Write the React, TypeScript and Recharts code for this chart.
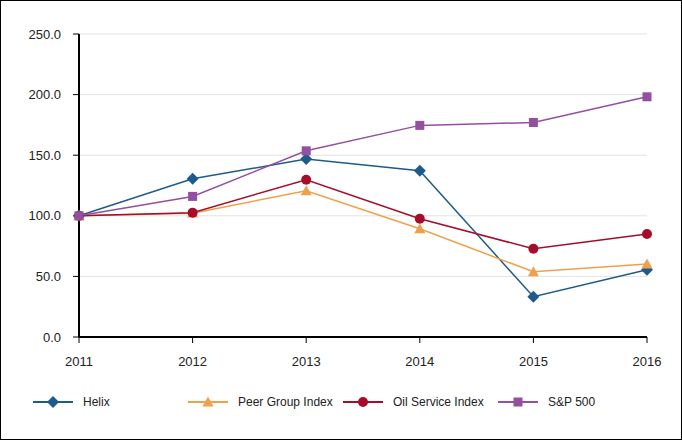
import React from "react";
import { LineChart, Line, XAxis, YAxis, CartesianGrid } from "recharts";

const years = ["2011", "2012", "2013", "2014", "2015", "2016"];
const helix = [100, 130.5, 146.8, 137.2, 33.2, 55.5];
const peerGroup = [100, 102.2, 120.6, 89.3, 53.8, 60.2];
const oilService = [100, 102.6, 129.8, 97.5, 72.8, 85.0];
const sp500 = [100, 116.0, 153.6, 174.6, 177.0, 198.2];
const yTicks = [0, 50, 100, 150, 200, 250];

const seriesNames = ["Helix", "Peer Group Index", "Oil Service Index", "S&P 500"];
const seriesKeys = ["helix", "peer", "oil", "sp"];
const seriesColors = ["#1F5A8C", "#F0A04A", "#A50D2A", "#934FA0"];
const seriesShapes = ["diamond", "triangle", "circle", "square"];

const data = years.map((y, i) => ({
  year: y,
  helix: helix[i],
  peer: peerGroup[i],
  oil: oilService[i],
  sp: sp500[i],
}));

const FONT = "'Liberation Sans', Arial, sans-serif";

function Marker({ shape, cx, cy, color }: { shape: string; cx: number; cy: number; color: string }) {
  if (cx == null || cy == null) return null;
  if (shape === "diamond") {
    const s = 6;
    return <polygon points={`${cx},${cy - s} ${cx + s},${cy} ${cx},${cy + s} ${cx - s},${cy}`} fill={color} />;
  }
  if (shape === "triangle") {
    const s = 5.5;
    return <polygon points={`${cx},${cy - s} ${cx + s},${cy + s * 0.8} ${cx - s},${cy + s * 0.8}`} fill={color} />;
  }
  if (shape === "circle") {
    return <circle cx={cx} cy={cy} r={5} fill={color} />;
  }
  return <rect x={cx - 4.5} y={cy - 4.5} width={9} height={9} fill={color} />;
}

function makeDot(idx: number) {
  return (props: any) => (
    <Marker key={`${idx}-${props.index}`} shape={seriesShapes[idx]} cx={props.cx} cy={props.cy} color={seriesColors[idx]} />
  );
}

function LegendBlock() {
  return (
    <div
      style={{
        position: "absolute",
        top: 394,
        left: 0,
        display: "flex",
        paddingLeft: 32,
        fontFamily: FONT,
        fontSize: 12,
        color: "#222",
      }}
    >
      {seriesNames.map((name, i) => (
        <div key={name} style={{ width: 155, display: "flex", alignItems: "center" }}>
          <svg width={50} height={14}>
            <line x1={0} y1={7} x2={40} y2={7} stroke={seriesColors[i]} strokeWidth={2} />
            <Marker shape={seriesShapes[i]} cx={20} cy={7} color={seriesColors[i]} />
          </svg>
          <span>{name}</span>
        </div>
      ))}
    </div>
  );
}

export default function App() {
  return (
    <div
      style={{
        position: "absolute",
        left: 0,
        top: 0,
        width: 682,
        height: 440,
        border: "1px solid #000",
        boxSizing: "border-box",
        background: "#fff",
      }}
    >
      <div style={{ position: "absolute", left: -1, top: -1 }}>
        <LineChart width={682} height={440} data={data} margin={{ top: 34, right: 35, bottom: 73, left: 0 }}>
          <CartesianGrid horizontal vertical={false} stroke="#E3E3E3" strokeWidth={1} />
          <XAxis
            dataKey="year"
            height={30}
            tickSize={6}
            tickMargin={14}
            axisLine={{ stroke: "#000", strokeWidth: 2 }}
            tickLine={{ stroke: "#000" }}
            tick={{ fill: "#222", fontSize: 13, fontFamily: FONT }}
            padding={{ left: 0, right: 0 }}
          />
          <YAxis
            width={79}
            domain={[0, 250]}
            ticks={yTicks}
            tickFormatter={(v: number) => v.toFixed(1)}
            tickSize={6}
            tickMargin={12}
            axisLine={{ stroke: "#000", strokeWidth: 2 }}
            tickLine={{ stroke: "#000" }}
            tick={{ fill: "#222", fontSize: 13, fontFamily: FONT }}
          />
          {seriesKeys.map((k, i) => (
            <Line
              key={k}
              dataKey={k}
              name={seriesNames[i]}
              type="linear"
              stroke={seriesColors[i]}
              strokeWidth={1.5}
              dot={makeDot(i)}
              activeDot={false}
              isAnimationActive={false}
            />
          ))}
        </LineChart>
      </div>
      <LegendBlock />
    </div>
  );
}
